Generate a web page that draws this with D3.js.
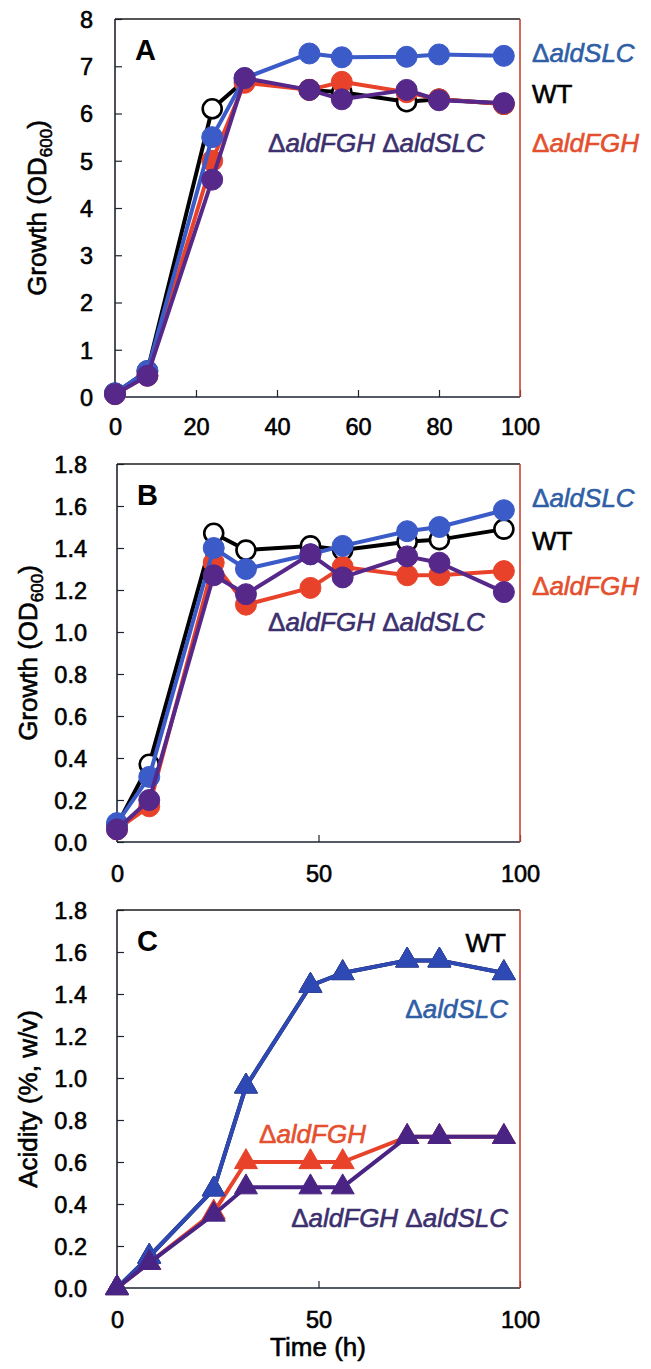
<!DOCTYPE html>
<html>
<head>
<meta charset="utf-8">
<script src="https://cdn.jsdelivr.net/npm/d3@7"></script>
<style>
  body { margin: 0; background: #fff; }
  svg text { font-family: "Liberation Sans", Arial, Helvetica, sans-serif; }
</style>
</head>
<body>
<svg id="chart"></svg>
<script>
// sampling times (h)
var hours = [0, 8, 24, 32, 48, 56, 72, 80, 96];

// panel A : growth (OD600)
var wtA  = [0.08, 0.55, 6.10, 6.70, 6.50, 6.45, 6.25, 6.30, 6.20];
var fghA = [0.06, 0.45, 5.00, 6.65, 6.50, 6.67, 6.45, 6.30, 6.20];
var slcA = [0.08, 0.55, 5.50, 6.75, 7.27, 7.19, 7.20, 7.25, 7.22];
var dblA = [0.06, 0.45, 4.60, 6.75, 6.50, 6.30, 6.50, 6.28, 6.22];

// panel B : growth (OD600)
var wtB  = [0.08, 0.37, 1.47, 1.39, 1.41, 1.39, 1.43, 1.44, 1.49];
var fghB = [0.06, 0.17, 1.33, 1.13, 1.21, 1.31, 1.27, 1.27, 1.29];
var slcB = [0.09, 0.31, 1.40, 1.30, 1.37, 1.41, 1.48, 1.50, 1.58];
var dblB = [0.06, 0.20, 1.27, 1.18, 1.37, 1.26, 1.36, 1.33, 1.19];

// panel C : acidity (%, w/v)
var wtC  = [0.00, 0.15, 0.47, 0.96, 1.44, 1.50, 1.56, 1.56, 1.50];
var fghC = [0.00, 0.12, 0.36, 0.60, 0.60, 0.60, 0.72, 0.72, 0.72];
var slcC = [0.00, 0.15, 0.47, 0.96, 1.44, 1.50, 1.56, 1.56, 1.50];
var dblC = [0.00, 0.12, 0.35, 0.48, 0.48, 0.48, 0.72, 0.72, 0.72];

var xTicksA = [0, 20, 40, 60, 80, 100];
var xTicksBC = [0, 50, 100];
var yTicksA = [0, 1, 2, 3, 4, 5, 6, 7, 8];
var yTicksBC = [0, 0.2, 0.4, 0.6, 0.8, 1.0, 1.2, 1.4, 1.6, 1.8];

var col = {wt: "#000000", fgh: "#e8432a", slc: "#3b5bc9", dbl: "#55288a"};
var colC = {wt: "#000000", fgh: "#e8432a", slc: "#2e48b4", dbl: "#4a2484"};
var txtCol = {wt: "#000000", fgh: "#e4502e", slc: "#2f5ea6", dbl: "#3b2f6e"};

var svg = d3.select("#chart")
    .attr("width", 651)
    .attr("height", 1369);

svg.append("rect").attr("width", 651).attr("height", 1369).attr("fill", "#fff");

var panels = [
    {letter: "A", top: 19, bottom: 397, left: 115, right: 520, yMax: 8, yTicks: yTicksA, xTicks: xTicksA,
     fmt: d3.format("d"), labPad: 22, titleX: 46, title: "growth", marker: "circle", colors: col,
     series: [["wt", wtA], ["fgh", fghA], ["slc", slcA], ["dbl", dblA]],
     labels: [
        {k: "slc", parts: ["aldSLC"], x: 532, y: 62},
        {k: "wt", plain: "WT", x: 532, y: 103},
        {k: "fgh", parts: ["aldFGH"], x: 532, y: 152},
        {k: "dbl", parts: ["aldFGH", "aldSLC"], x: 268, y: 152}
     ]},
    {letter: "B", top: 464, bottom: 842, left: 117, right: 520, yMax: 1.8, yTicks: yTicksBC, xTicks: xTicksBC,
     fmt: d3.format(".1f"), labPad: 30, titleX: 37, title: "growth", marker: "circle", colors: col,
     series: [["wt", wtB], ["fgh", fghB], ["slc", slcB], ["dbl", dblB]],
     labels: [
        {k: "slc", parts: ["aldSLC"], x: 532, y: 507},
        {k: "wt", plain: "WT", x: 532, y: 550},
        {k: "fgh", parts: ["aldFGH"], x: 532, y: 595},
        {k: "dbl", parts: ["aldFGH", "aldSLC"], x: 268, y: 631}
     ]},
    {letter: "C", top: 910, bottom: 1288, left: 117, right: 520, yMax: 1.8, yTicks: yTicksBC, xTicks: xTicksBC,
     fmt: d3.format(".1f"), labPad: 30, titleX: 37, title: "acidity", marker: "triangle", colors: colC,
     series: [["wt", wtC], ["fgh", fghC], ["slc", slcC], ["dbl", dblC]],
     labels: [
        {k: "wt", plain: "WT", x: 506, y: 952, anchor: "end"},
        {k: "slc", parts: ["aldSLC"], x: 508, y: 1018, anchor: "end"},
        {k: "fgh", parts: ["aldFGH"], x: 259, y: 1143},
        {k: "dbl", parts: ["aldFGH", "aldSLC"], x: 508, y: 1227, anchor: "end"}
     ]}
];

// heavier glyphs, the scan looks a bit bold
function heavy(sel, c) {
    sel.attr("stroke", c).attr("stroke-width", 0.6).attr("paint-order", "stroke");
}

panels.forEach(function(p) {
    var x = d3.scaleLinear().domain([0, 100]).range([p.left, p.right]);
    var y = d3.scaleLinear().domain([0, p.yMax]).range([p.bottom, p.top]);
    var g = svg.append("g");

    // axes with inward ticks
    var gx = g.append("g")
        .attr("transform", "translate(0," + p.bottom + ")")
        .call(d3.axisBottom(x).tickValues(p.xTicks).tickSize(-7).tickFormat(d3.format("d")));
    gx.select(".domain").remove();
    gx.selectAll("line").attr("stroke", "#1d2430").attr("stroke-width", 1.2);
    gx.selectAll("text")
        .attr("y", p.letter === "A" ? 38 : 40)
        .attr("dy", 0)
        .attr("fill", "#000")
        .style("font-size", "23.5px")
        .call(heavy, "#000");

    var gy = g.append("g")
        .attr("transform", "translate(" + p.left + ",0)")
        .call(d3.axisLeft(y).tickValues(p.yTicks).tickSize(-7).tickFormat(p.fmt));
    gy.select(".domain").remove();
    gy.selectAll("line").attr("stroke", "#1d2430").attr("stroke-width", 1.2);
    gy.selectAll("text")
        .attr("x", -p.labPad)
        .attr("dy", "0.36em")
        .attr("fill", "#000")
        .style("font-size", "23.5px")
        .call(heavy, "#000");

    // frame
    g.append("line").attr("x1", p.left).attr("x2", p.right).attr("y1", p.top).attr("y2", p.top)
        .attr("stroke", "#1d1d1d").attr("stroke-width", 1.6);
    g.append("line").attr("x1", p.left).attr("x2", p.left).attr("y1", p.top).attr("y2", p.bottom)
        .attr("stroke", "#1d2430").attr("stroke-width", 1.6);
    g.append("line").attr("x1", p.left).attr("x2", p.right).attr("y1", p.bottom).attr("y2", p.bottom)
        .attr("stroke", "#1d2430").attr("stroke-width", 1.6);
    g.append("line").attr("x1", p.right).attr("x2", p.right).attr("y1", p.top).attr("y2", p.bottom)
        .attr("stroke", "#c8452f").attr("stroke-width", 1.6);

    // panel letter
    g.append("text")
        .attr("x", p.left + 20)
        .attr("y", p.top + 41)
        .style("font-size", "29px")
        .style("font-weight", "bold")
        .text(p.letter);

    // y title
    var tt = g.append("text")
        .attr("transform", "translate(" + p.titleX + "," + ((p.top + p.bottom) / 2) + ") rotate(-90)")
        .attr("text-anchor", "middle")
        .style("font-size", "26px")
        .call(heavy, "#000");
    if (p.title === "growth") {
        tt.append("tspan").text("Growth (OD");
        tt.append("tspan").attr("dy", 6).style("font-size", "17px").text("600");
        tt.append("tspan").attr("dy", -6).text(")");
    } else {
        tt.text("Acidity (%, w/v)");
    }

    // series
    var line = d3.line()
        .x(function(d, i) { return x(hours[i]); })
        .y(function(d) { return y(d); });

    p.series.forEach(function(s) {
        var k = s[0], vals = s[1], c = p.colors[k];
        var sg = g.append("g").attr("class", "series-" + k);
        sg.append("path")
            .datum(vals)
            .attr("d", line)
            .attr("fill", "none")
            .attr("stroke", c)
            .attr("stroke-width", 4)
            .attr("stroke-linejoin", "round");

        if (p.marker === "circle") {
            sg.selectAll("circle")
                .data(vals)
                .enter().append("circle")
                .attr("cx", function(d, i) { return x(hours[i]); })
                .attr("cy", function(d) { return y(d); })
                .attr("r", k === "wt" ? 9.5 : 10.5)
                .attr("fill", k === "wt" ? "#fff" : c)
                .attr("stroke", k === "wt" ? "#000" : c)
                .attr("stroke-width", k === "wt" ? 2.6 : 1);
        } else {
            sg.selectAll("path.tri")
                .data(vals)
                .enter().append("path")
                .attr("class", "tri")
                .attr("d", d3.symbol().type(d3.symbolTriangle).size(230))
                .attr("transform", function(d, i) { return "translate(" + x(hours[i]) + "," + y(d) + ")"; })
                .attr("fill", c)
                .attr("stroke", c)
                .attr("stroke-width", 1);
        }
    });

    // series labels
    p.labels.forEach(function(l) {
        var t = g.append("text")
            .attr("x", l.x)
            .attr("y", l.y)
            .attr("text-anchor", l.anchor || "start")
            .attr("fill", txtCol[l.k])
            .style("font-size", "26px")
            .call(heavy, txtCol[l.k]);
        if (l.plain) {
            t.text(l.plain);
        } else {
            l.parts.forEach(function(part, i) {
                t.append("tspan").text((i > 0 ? " " : "") + "\u0394");
                t.append("tspan").style("font-style", "italic").text(part);
            });
        }
    });
});

// x title (bottom panel)
svg.append("text")
    .attr("x", 318)
    .attr("y", 1356)
    .attr("text-anchor", "middle")
    .style("font-size", "26px")
    .call(heavy, "#000")
    .text("Time (h)");
</script>
</body>
</html>
